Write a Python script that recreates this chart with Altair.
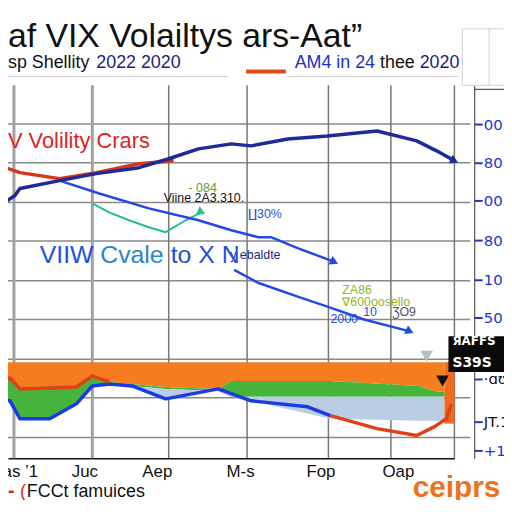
import altair as alt
import pandas as pd

# ---------------- values ----------------
# x = position along the time axis, y = index level (right axis scale)
navy_x = [0, 15, 20, 60, 97, 140, 170, 200, 233, 253, 290, 330, 380, 420, 440, 458]
navy_y = [255, 265, 272, 280, 287, 293, 302, 312, 317, 315, 322, 325, 330, 320, 310, 300]

red_x = [0, 20, 60, 97, 140, 175]
red_y = [295, 288, 282, 288, 297, 300]

blue_x = [60, 100, 150, 200, 233, 260, 273, 300, 337]
blue_y = [280, 267, 252, 240, 230, 223, 223, 212, 198]

teal_x = [93, 110, 130, 150, 167, 187, 203]
teal_y = [257, 248, 240, 233, 228, 240, 248]

blue2_x = [236, 260, 300, 330, 367, 413]
blue2_y = [190, 177, 163, 153, 140, 128]

band_x = [0, 10, 20, 50, 77, 93, 110, 133, 167, 220, 233, 253, 333, 423, 437, 448]
orange_top = [97, 97, 97, 97, 97, 97, 97, 97, 97, 97, 97, 97, 97, 97, 97, 97]
orange_bot = [78, 81, 70, 71, 72, 83, 77, 75, 72, 70, 78, 78, 78, 73, 68, 67]
green_bot = [60, 58, 40, 40, 55, 73, 75, 73, 70, 68, 62, 62, 62, 62, 62, 62]
lblue_bot = [60, 58, 40, 40, 55, 73, 75, 73, 60, 70, 66, 58, 40, 38, 38, 38]

vix_x = [0, 10, 20, 50, 77, 93, 110, 133, 167, 220, 253, 310, 333]
vix_y = [60, 58, 40, 40, 55, 73, 75, 73, 60, 70, 58, 52, 43]

redl_x = [0, 10, 20, 77, 93, 110]
redl_y = [78, 81, 70, 72, 83, 77]
redr_x = [333, 380, 420, 438, 450, 455]
redr_y = [43, 30, 23, 32, 40, 55]

bar_x = [448]
bar_x2 = [458]
bar_top = [97]
bar_bot = [35]

arrow_series = ["navy", "blue", "blue2", "teal"]
arrow_x = [458, 337, 413, 203]
arrow_y = [300, 198, 128, 248]

pointer_x = [430, 446]
pointer_y = [103, 78]
pointer_kind = ["t_lgray", "t_black"]

vgrid_x = [14, 93, 170, 249, 331, 394, 458]
hgrid_y = [21, 61, 100, 140, 179, 219, 258, 298, 337]

x_tick_vals = [20, 85, 158, 242, 323, 401]
x_tick_labels = ["as \u20191", "Juc", "Aep", "M-s", "Fop", "Oap"]
y_tick_vals = [337, 298, 260, 220, 180, 142, 80, 37, 8]
y_tick_labels = ["00.", "80.", "00.", "80.", "10.", "50.", "\u00b7\u0251\u028a\u0251", "JT.100", "+100"]

# in-plot annotations (x, y in data units)
ann_text = ["- 084", "Viine 2A3.310.", "\u221030%", "y ebaldte",
            "ZA86", "\u2207600oosello", "2000", "10", "\u01b7O9"]
ann_x = [190, 165, 250, 232, 345, 345, 333, 366, 395]
ann_y = [273, 262, 246, 205, 170, 158, 140, 147, 147]
ann_kind = ["t_green", "t_black", "t_blue", "t_navy", "t_yg", "t_yg", "t_blue", "t_blue", "t_gray"]

big_text = ["V Volility Crars", "VIIW", "Cvale", "to X N"]
big_x = [8, 40, 101, 172]
big_y = [320, 205, 205, 205]
big_kind = ["t_red", "t_blue", "t_teal", "t_blue"]
big_size = ["m", "l", "l", "l"]

color_domain = ["navy", "red", "blue", "teal", "blue2", "vix", "redl", "redr",
                "t_red", "t_green", "t_black", "t_blue", "t_navy", "t_yg", "t_gray", "t_teal", "t_lgray"]
color_range = ["#1c2a9a", "#d8361c", "#2448e6", "#22bf92", "#2448e6", "#1a3ae8", "#e0401a", "#e0401a",
               "#e02424", "#5c9c2c", "#111111", "#2250e0", "#1c2a7a", "#94b424", "#555555", "#2a86cc",
               "#b4bcc6"]

# ---------------- chart ----------------
FONT = "Liberation Sans"
xs = alt.Scale(domain=[8, 458], nice=False, zero=False)
ys = alt.Scale(domain=[0, 376], nice=False, zero=False)


def expr_for(vals, labs):
    parts = [f"datum.value == {v} ? '{l}'" for v, l in zip(vals, labs)]
    return " : ".join(parts) + " : ''"


x_axis = alt.Axis(values=x_tick_vals, labelExpr=expr_for(x_tick_vals, x_tick_labels),
                  grid=False, ticks=False, title=None, domainColor="#111", domainWidth=1.5,
                  labelFontSize=17, labelColor="#111", labelPadding=5, labelFont=FONT,
                  labelFlush=False, labelOverlap=False, labelBound=False)
y_axis = alt.Axis(orient="right", offset=20, values=y_tick_vals,
                  labelExpr=expr_for(y_tick_vals, y_tick_labels),
                  grid=False, title=None, tickColor="#1f35d6", tickSize=8, tickWidth=2,
                  domainColor="#333", domainWidth=1,
                  labelColor={"condition": {"test": "datum.value > 20 && datum.value < 100", "value": "#111111"},
                              "value": "#1f35d6"},
                  labelFontSize=15, labelFont="DejaVu Sans", labelPadding=1,
                  labelFlush=False, labelOverlap=False, labelBound=False)

X = alt.X("x:Q", scale=xs, axis=x_axis)
Y = alt.Y("y:Q", scale=ys, axis=y_axis)
CSCALE = alt.Scale(domain=color_domain, range=color_range)
COLOR = alt.Color("series:N", scale=CSCALE, legend=None)
KCOLOR = alt.Color("kind:N", scale=CSCALE, legend=None)


def ldf(name, xs_, ys_):
    return pd.DataFrame({"x": xs_, "y": ys_, "series": name})


bands = pd.DataFrame({"x": band_x, "otop": orange_top, "obot": orange_bot,
                      "gbot": green_bot, "lbot": lblue_bot})

hgrid = alt.Chart(pd.DataFrame({"y": hgrid_y})).mark_rule(color="#8a8a8a", strokeWidth=1.5).encode(
    y=Y, x=alt.value(0), x2=alt.value(466))
vgrid_thick = alt.Chart(pd.DataFrame({"x": vgrid_x[:2]})).mark_rule(color="#a0a0a0", strokeWidth=3).encode(
    x=X, y=alt.value(0), y2=alt.value(376))
vgrid = alt.Chart(pd.DataFrame({"x": vgrid_x[2:]})).mark_rule(color="#777777", strokeWidth=1.5).encode(
    x=X, y=alt.value(0), y2=alt.value(376))

orange_area = alt.Chart(bands).mark_area(color="#f57c1f", clip=True).encode(
    x=X, y=alt.Y("otop:Q", scale=ys, axis=y_axis), y2="obot:Q")
green_area = alt.Chart(bands).mark_area(color="#46b43c", clip=True).encode(
    x=X, y=alt.Y("obot:Q", scale=ys, axis=y_axis), y2="gbot:Q")
lblue_area = alt.Chart(bands).mark_area(color="#b9cde3", clip=True).encode(
    x=X, y=alt.Y("gbot:Q", scale=ys, axis=y_axis), y2="lbot:Q")
bar = alt.Chart(pd.DataFrame({"x": bar_x, "x2": bar_x2, "y": bar_top, "y2": bar_bot})).mark_rect(
    color="#f26a1b").encode(x=X, x2="x2:Q", y=Y, y2="y2:Q")


def line(name, xs_, ys_, w):
    return alt.Chart(ldf(name, xs_, ys_)).mark_line(strokeWidth=w, clip=True, strokeJoin="round").encode(
        x=X, y=Y, color=COLOR)


lines = [
    line("vix", vix_x, vix_y, 3.5),
    line("redl", redl_x, redl_y, 3.5),
    line("redr", redr_x, redr_y, 3.5),
    line("teal", teal_x, teal_y, 2),
    line("blue", blue_x, blue_y, 2.5),
    line("blue2", blue2_x, blue2_y, 2.5),
    line("red", red_x, red_y, 3.5),
    line("navy", navy_x, navy_y, 3.5),
]

arrows = alt.Chart(pd.DataFrame({"x": arrow_x, "y": arrow_y, "series": arrow_series})).mark_point(
    shape="triangle-right", filled=True, size=90, opacity=1, angle=25).encode(x=X, y=Y, color=COLOR)

pointers = alt.Chart(pd.DataFrame({"x": pointer_x, "y": pointer_y, "kind": pointer_kind})).mark_point(
    shape="triangle-down", filled=True, size=160, opacity=1, angle=0).encode(x=X, y=Y, color=KCOLOR)

ann = alt.Chart(pd.DataFrame({"x": ann_x, "y": ann_y, "t": ann_text, "kind": ann_kind})).mark_text(
    align="left", baseline="middle", font=FONT, fontSize=12.5).encode(
    x=X, y=Y, text="t:N", color=KCOLOR)
big = alt.Chart(pd.DataFrame({"x": big_x, "y": big_y, "t": big_text, "kind": big_kind, "sz": big_size})).mark_text(
    align="left", baseline="middle", font=FONT).encode(
    x=X, y=Y, text="t:N", color=KCOLOR,
    size=alt.Size("sz:N", scale=alt.Scale(domain=["m", "l"], range=[22, 25]), legend=None))


def ptext(s, x, y, size, color, weight="normal", font=FONT, baseline="alphabetic"):
    return alt.Chart(pd.DataFrame({"t": [s]})).mark_text(
        align="left", baseline=baseline, font=font, fontSize=size, fontWeight=weight, color=color).encode(
        text="t:N", x=alt.value(x), y=alt.value(y))


decor = [
    ptext("af VIX Volailtys ars-Aat\u201d", 0, -39, 34, "#111"),
    ptext("sp Shellity", 0, -17, 18, "#111"),
    ptext("2022 2020", 89, -17, 18, "#1c237e"),
    ptext("AM4 in 24", 289, -17, 18, "#2230c8"),
    ptext("thee", 375, -17, 18, "#111"),
    ptext("2020", 415, -17, 18, "#1c237e"),
    ptext("-", 0, 415, 20, "#e02020", "bold"),
    ptext("(", 12, 415, 18, "#e02020"),
    ptext("FCCt famuices", 19, 415, 18, "#111"),
    ptext("ceiprs", 408, 415, 30, "#f07020", "bold"),
    ptext("\u042fAFFS", 448, 262, 12, "#ffffff", "bold", "DejaVu Sans"),
    ptext("S39\u0405", 448, 284, 14, "#ffffff", "bold", "DejaVu Sans"),
]

legend_rule = alt.Chart(pd.DataFrame({"k": [0]})).mark_rule(color="#e04a1a", strokeWidth=4).encode(
    x=alt.value(240), x2=alt.value(280), y=alt.value(-14))
under1 = alt.Chart(pd.DataFrame({"k": [0]})).mark_rule(color="#cfcfcf", strokeWidth=1).encode(
    x=alt.value(0), x2=alt.value(222), y=alt.value(-9))
under2 = alt.Chart(pd.DataFrame({"k": [0]})).mark_rule(color="#cfcfcf", strokeWidth=1).encode(
    x=alt.value(282), x2=alt.value(454), y=alt.value(-9))
frame_top = alt.Chart(pd.DataFrame({"k": [0]})).mark_rule(color="#333333", strokeWidth=1).encode(
    x=alt.value(470), x2=alt.value(500), y=alt.value(4))
gray_box = alt.Chart(pd.DataFrame({"k": [0]})).mark_rect(fill="white", stroke="#d0d0d0", strokeWidth=1).encode(
    x=alt.value(458), x2=alt.value(510), y=alt.value(-57), y2=alt.value(0))
gray_box_line = alt.Chart(pd.DataFrame({"k": [0]})).mark_rule(color="#d0d0d0", strokeWidth=1).encode(
    x=alt.value(485), y=alt.value(-57), y2=alt.value(0))
blackbox = alt.Chart(pd.DataFrame({"k": [0]})).mark_rect(color="#0a0a0a").encode(
    x=alt.value(444), x2=alt.value(500), y=alt.value(253), y2=alt.value(289))

chart = alt.layer(
    gray_box, gray_box_line,
    hgrid, vgrid_thick, vgrid, orange_area, green_area, lblue_area, bar,
    *lines, arrows, pointers, ann, big, legend_rule, under1, under2, frame_top, blackbox, *decor
).properties(
    width=450, height=376,
    autosize=alt.AutoSizeParams(type="none"),
    padding={"left": 0, "top": 76, "right": 50, "bottom": 40},
    background="white",
).configure_view(stroke=None)

chart.save("out.html", embed_options={"renderer": "svg", "actions": False})
